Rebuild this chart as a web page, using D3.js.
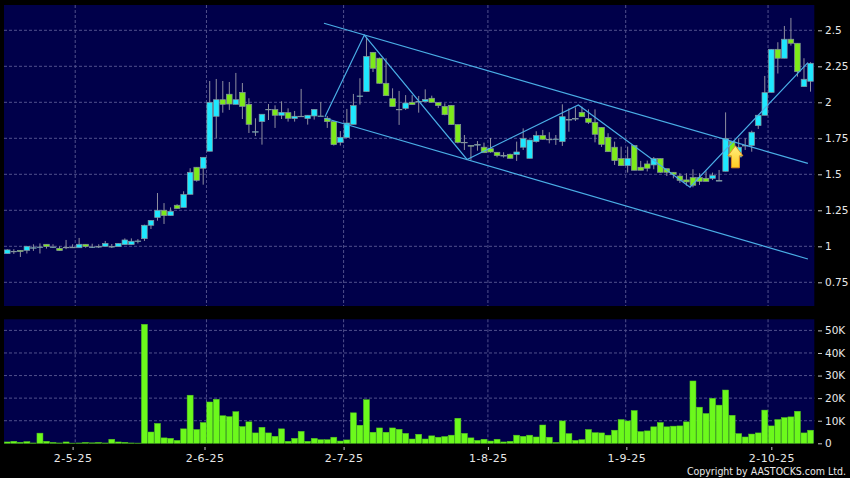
<!DOCTYPE html>
<html>
<head>
<meta charset="utf-8">
<script src="https://d3js.org/d3.v7.min.js"></script>
<style>
  html, body { margin: 0; padding: 0; background: #000; }
  svg { display: block; }
  text { font-family: "DejaVu Sans", sans-serif; fill: #e8e8e8; }
</style>
</head>
<body>
<svg id="chart" width="850" height="478"></svg>
<script>
// values, one entry per trading day
var opens = [0.949,0.965,0.972,0.972,0.99,0.995,1.014,0.995,0.986,0.993,0.993,0.99,1.014,0.995,0.998,1.0,0.998,0.998,1.012,1.012,1.037,1.053,1.146,1.2,1.25,1.213,1.285,1.27,1.361,1.549,1.542,1.66,1.903,2.018,2.056,1.986,2.069,1.986,1.796,1.866,1.951,1.949,1.91,1.928,1.887,1.903,1.887,1.905,1.905,1.889,1.866,1.722,1.755,1.847,2.044,2.074,2.347,2.306,2.132,2.025,1.951,1.958,2.0,2.005,2.005,2.028,1.998,1.972,1.979,1.845,1.722,1.7,1.706,1.688,1.678,1.653,1.63,1.639,1.637,1.688,1.611,1.727,1.769,1.743,1.745,1.727,1.88,1.887,1.93,1.887,1.861,1.826,1.757,1.688,1.609,1.56,1.699,1.549,1.572,1.565,1.609,1.539,1.514,1.488,1.461,1.477,1.477,1.472,1.472,1.456,1.521,1.727,1.62,1.7,1.7,1.838,1.91,2.069,2.368,2.306,2.438,2.41,2.109,2.146];
var highs = [0.98,0.98,0.972,1.0,1.014,1.02,1.014,1.014,1.0,1.044,1.014,1.058,1.014,1.018,1.014,1.037,1.016,1.02,1.055,1.055,1.05,1.15,1.18,1.37,1.3,1.27,1.292,1.382,1.542,1.549,1.618,2.148,2.162,2.148,2.141,2.204,2.134,2.028,1.889,1.917,1.988,1.979,2.007,1.958,1.94,2.093,1.91,1.951,2.002,1.905,1.868,1.8,1.954,2.058,2.167,2.456,2.347,2.31,2.306,2.097,2.079,2.05,2.05,2.044,2.09,2.046,2.0,1.993,1.98,1.845,1.773,1.7,1.731,1.72,1.752,1.653,1.653,1.643,1.727,1.819,1.74,1.799,1.808,1.792,1.773,1.986,1.958,1.965,1.97,1.951,1.951,1.826,1.785,1.727,1.692,1.692,1.699,1.593,1.595,1.62,1.609,1.54,1.514,1.507,1.507,1.535,1.507,1.521,1.512,1.53,1.93,1.73,1.75,1.75,1.803,1.91,2.183,2.37,2.417,2.53,2.586,2.41,2.306,2.278];
var lows = [0.95,0.947,0.926,0.95,0.968,0.95,0.984,0.988,0.97,0.98,0.988,0.99,0.99,0.988,0.988,1.0,0.988,0.998,1.012,1.012,1.02,1.037,1.12,1.178,1.155,1.213,1.262,1.27,1.361,1.449,1.428,1.66,1.75,1.928,1.947,1.986,1.884,1.787,1.766,1.706,1.877,1.822,1.884,1.866,1.866,1.903,1.845,1.88,1.905,1.822,1.7,1.7,1.755,1.847,1.984,2.074,2.21,2.13,2.046,1.97,1.843,1.947,1.984,1.928,2.0,2.0,1.96,1.91,1.845,1.715,1.669,1.6,1.664,1.65,1.65,1.618,1.616,1.611,1.593,1.669,1.611,1.72,1.74,1.715,1.704,1.697,1.796,1.87,1.9,1.85,1.722,1.69,1.657,1.565,1.56,1.512,1.528,1.528,1.52,1.535,1.51,1.488,1.472,1.44,1.421,1.41,1.426,1.451,1.46,1.456,1.521,1.62,1.62,1.669,1.657,1.815,1.91,2.069,2.2,2.306,2.394,2.178,2.109,2.074];
var closes = [0.975,0.965,0.963,1.0,0.99,0.995,0.998,0.995,0.97,0.993,0.993,1.014,0.998,0.995,0.998,1.02,0.998,1.02,1.044,1.035,1.037,1.146,1.18,1.25,1.213,1.243,1.262,1.36,1.514,1.458,1.618,2.0,2.018,1.986,1.988,2.018,1.972,1.847,1.796,1.917,1.951,1.91,1.93,1.889,1.903,1.903,1.91,1.951,1.905,1.866,1.706,1.757,1.856,1.977,2.044,2.319,2.236,2.132,2.046,1.97,1.951,1.995,1.984,2.005,2.02,2.0,1.977,1.914,1.845,1.722,1.722,1.695,1.706,1.65,1.655,1.63,1.63,1.611,1.655,1.748,1.738,1.769,1.743,1.743,1.745,1.9,1.88,1.887,1.9,1.861,1.778,1.708,1.657,1.595,1.56,1.609,1.528,1.528,1.542,1.609,1.514,1.514,1.5,1.458,1.447,1.424,1.451,1.451,1.491,1.456,1.748,1.62,1.688,1.7,1.792,1.91,2.067,2.368,2.306,2.438,2.41,2.213,2.16,2.271];
var volumes = [0.6,0.9,0.45,0.75,0.15,4.5,0.9,0.4,0.15,0.6,0.1,0.15,0.4,0.2,0.4,0.15,1.8,0.6,0.45,0.15,0.1,52.7,5.0,8.8,2.4,2.2,1.3,6.4,21.3,6.1,9.2,18.3,19.5,12.2,11.8,14,7.4,9.5,4.6,7.1,4.6,3.1,6.4,0.9,2.2,5.3,0.9,2.2,1.6,1.6,2.7,1.0,1.5,13.5,8.0,19.3,4.9,6.8,4.9,6.8,6.2,4.4,1.9,4.0,1.9,3.3,2.7,3.0,3.6,11.1,4.4,2.4,1.3,1.8,1.0,1.8,0.6,0.9,3.6,3.1,3.6,2.8,8.1,2.7,0.4,9.9,4.3,1.3,1.6,6.1,4.7,4.6,3.6,5.8,10.5,9.9,14.5,5.2,5.5,7.3,9.2,7.3,7.6,7.7,9.5,27.6,16,13.2,19.9,16.9,23.6,12.4,4.3,2.8,4.1,4.6,14.7,7.7,10.5,11.4,11.7,14.2,4.6,5.8];

var priceTicks = [0.75,1,1.25,1.5,1.75,2,2.25,2.5];
var volumeTicks = [0,10,20,30,40,50];
var dateLabels = ["2-5-25","2-6-25","2-7-25","1-8-25","1-9-25","2-10-25"];
var dateGridAt = [10.4,30.5,51.5,73.6,94.7,116.5];
var dateTickAt = [10,30.2,51.5,73.6,94.8,117];

// drawn trend lines as [day, price]
var channelUpper = [[48.5,2.549],[122.6,1.576]];
var channelLower = [[48.65,1.889],[122.6,0.912]];
var zigzag = [[48.65,1.9],[54.67,2.467],[70.4,1.603],[87.45,1.981],[104.55,1.41],[122.6,2.275]];
var signalDay = 111.5;
var signalPrice = 1.698;

var svg = d3.select("#chart");

var x = d3.scaleLinear().domain([0, 123]).range([7.3, 810.5]);
var y = d3.scaleLinear().domain([0.75, 2.5]).range([282.3, 30.3]);
var yVol = d3.scaleLinear().domain([0, 50]).range([443.3, 330.4]);

var bg = "#00004a";
var left = 4, right = 814.3;
var bodyWidth = 5.6;

svg.append("rect").attr("x", left).attr("y", 5).attr("width", right - left).attr("height", 301).attr("fill", bg);
svg.append("rect").attr("x", left).attr("y", 319.3).attr("width", right - left).attr("height", 124).attr("fill", bg);

var gridColor = "#50508c";

function hGrid(scale, ticks) {
  svg.append("g").selectAll("line").data(ticks).enter().append("line")
    .attr("x1", left).attr("x2", right)
    .attr("y1", function(d) { return scale(d); })
    .attr("y2", function(d) { return scale(d); })
    .attr("stroke", gridColor)
    .attr("stroke-dasharray", "3,2");
}
hGrid(y, priceTicks);
hGrid(yVol, volumeTicks.slice(1));

svg.append("g").selectAll("line").data(dateGridAt.concat(dateGridAt)).enter().append("line")
  .attr("x1", function(d) { return x(d); })
  .attr("x2", function(d) { return x(d); })
  .attr("y1", function(d, i) { return i < dateGridAt.length ? 5 : 319.3; })
  .attr("y2", function(d, i) { return i < dateGridAt.length ? 306 : 443.3; })
  .attr("stroke", gridColor)
  .attr("stroke-dasharray", "3,2");

// volume
svg.append("g").selectAll("rect").data(volumes).enter().append("rect")
  .attr("x", function(d, i) { return x(i) - 3; })
  .attr("y", function(d) { return yVol(d); })
  .attr("width", 6)
  .attr("height", function(d) { return yVol(0) - yVol(d); })
  .attr("fill", "#6cf91c")
  .attr("stroke", "#50c41e")
  .attr("stroke-width", 0.5);

// candles
var days = d3.range(opens.length);

svg.append("g").selectAll("line").data(days).enter().append("line")
  .attr("x1", function(i) { return x(i); })
  .attr("x2", function(i) { return x(i); })
  .attr("y1", function(i) { return y(highs[i]); })
  .attr("y2", function(i) { return y(lows[i]); })
  .attr("stroke", "#8f8f9f")
  .attr("stroke-width", 1);

svg.append("g").selectAll("rect").data(days).enter().append("rect")
  .attr("x", function(i) { return x(i) - bodyWidth / 2; })
  .attr("y", function(i) { return y(Math.max(opens[i], closes[i])); })
  .attr("width", bodyWidth)
  .attr("height", function(i) { return Math.max(0.5, Math.abs(y(opens[i]) - y(closes[i]))); })
  .attr("fill", function(i) { return closes[i] >= opens[i] ? "#1ee8ff" : "#7dea1a"; })
  .attr("stroke", "#84949c")
  .attr("stroke-width", 0.7);

// trend lines
var trend = d3.line().x(function(d) { return x(d[0]); }).y(function(d) { return y(d[1]); });

svg.append("g").selectAll("path").data([channelUpper, channelLower, zigzag]).enter().append("path")
  .attr("d", trend)
  .attr("fill", "none")
  .attr("stroke", "#4aaee6")
  .attr("stroke-width", 1.2);

// signal arrow
var ax = x(signalDay), ay = y(signalPrice);
var arrow = d3.path();
arrow.moveTo(ax, ay);
arrow.lineTo(ax + 7.5, ay + 10);
arrow.lineTo(ax + 4, ay + 10);
arrow.lineTo(ax + 4, ay + 22);
arrow.lineTo(ax - 4, ay + 22);
arrow.lineTo(ax - 4, ay + 10);
arrow.lineTo(ax - 7.5, ay + 10);
arrow.closePath();

var grad = svg.append("defs").append("linearGradient")
  .attr("id", "arrowFill").attr("x1", 0).attr("y1", 0).attr("x2", 0).attr("y2", 1);
grad.append("stop").attr("offset", "0%").attr("stop-color", "#ffee80");
grad.append("stop").attr("offset", "100%").attr("stop-color", "#ffcc20");

svg.append("path").attr("d", arrow.toString())
  .attr("fill", "url(#arrowFill)")
  .attr("stroke", "#e09020")
  .attr("stroke-width", 1);

// axes
function styleAxis(g) {
  g.select(".domain").remove();
  g.selectAll("line").attr("stroke", "#c8c8c8");
  g.selectAll("text").attr("font-size", 10.5).attr("font-family", '"DejaVu Sans", sans-serif').attr("fill", "#e8e8e8");
}

svg.append("g").attr("transform", "translate(818,0)")
  .call(d3.axisRight(y).tickValues(priceTicks).tickSize(4).tickPadding(3).tickFormat(function(d) { return String(d); }))
  .call(styleAxis);

svg.append("g").attr("transform", "translate(818,0)")
  .call(d3.axisRight(yVol).tickValues(volumeTicks).tickSize(4).tickPadding(3).tickFormat(function(d) { return d === 0 ? "0" : d + "K"; }))
  .call(styleAxis);

svg.append("g").attr("transform", "translate(0,447)")
  .call(d3.axisBottom(x).tickValues(dateTickAt).tickSize(3).tickPadding(4).tickFormat(function(d, i) { return dateLabels[i]; }))
  .call(styleAxis)
  .selectAll("text").attr("font-size", 11).attr("letter-spacing", "0.45px");

svg.append("text").attr("x", 846).attr("y", 475)
  .attr("text-anchor", "end")
  .attr("font-size", 10.5)
  .style("font-stretch", "condensed")
  .text("Copyright by AASTOCKS.com Ltd.");
</script>
</body>
</html>
